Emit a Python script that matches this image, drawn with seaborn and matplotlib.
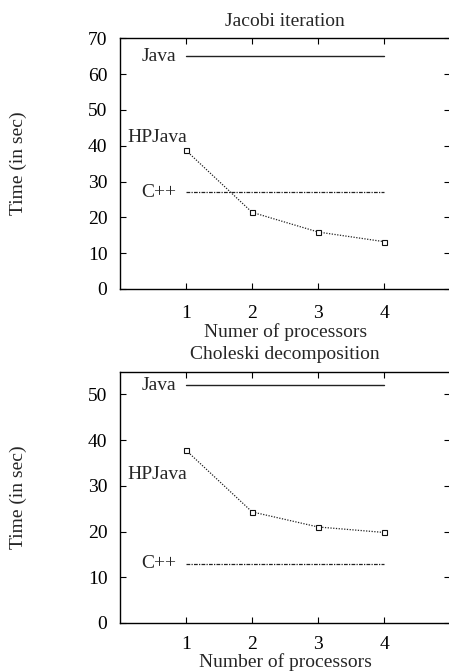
import matplotlib
matplotlib.use('Agg')
import matplotlib.pyplot as plt
import seaborn as sns
import pandas as pd

sns.set_theme(style="ticks")
plt.rcParams['font.family'] = ['Liberation Serif', 'DejaVu Serif']

# Processor counts
procs = [1, 2, 3, 4]

# Jacobi iteration timings (sec)
jacobi_hpjava = [38.7, 21.4, 15.9, 13.2]
jacobi_java = 65
jacobi_cpp = 27

# Choleski decomposition timings (sec)
choleski_hpjava = [37.8, 24.3, 21.0, 19.8]
choleski_java = 52
choleski_cpp = 13

FS = 14

panels = [
    ('Jacobi iteration', 'Numer of processors', jacobi_hpjava, jacobi_java, jacobi_cpp,
     70, [0, 10, 20, 30, 40, 50, 60, 70], 42.3),
    ('Choleski decomposition', 'Number of processors', choleski_hpjava, choleski_java, choleski_cpp,
     55, [0, 10, 20, 30, 40, 50], 32.4),
]

fig = plt.figure(figsize=(4.49, 6.72), dpi=100)
rects = [[0.267, 0.570, 0.736, 0.373], [0.267, 0.073, 0.736, 0.374]]
tick_pads = [11.5, 9.5]
label_pads = [0.5, 0.0]

for rect, tp, lp, (title, xlab, hp, java, cpp, ymax, yticks, hp_y) in zip(rects, tick_pads, label_pads, panels):
    ax = fig.add_axes(rect)
    df = pd.DataFrame({'procs': procs, 'HPJava': hp,
                       'Java': [java] * len(procs), 'C++': [cpp] * len(procs)})
    sns.lineplot(data=df, x='procs', y='Java', ax=ax, color='#222222', lw=1.0)
    sns.lineplot(data=df, x='procs', y='C++', ax=ax, color='#222222', lw=0.9,
                 dashes=False, linestyle=(0, (3, 1, 1, 1)))
    sns.lineplot(data=df, x='procs', y='HPJava', ax=ax, color='#222222', lw=0.9,
                 linestyle=(0, (1, 1.2)), marker='s', markersize=3.6,
                 markerfacecolor='white', markeredgecolor='#111111', markeredgewidth=0.8)

    # gnuplot-style key labels left of each curve
    ax.text(0.85, java, 'Java', ha='right', va='center', fontsize=FS)
    ax.text(0.85, cpp, 'C++', ha='right', va='center', fontsize=FS)
    ax.text(1.02, hp_y, 'HPJava', ha='right', va='center', fontsize=FS)

    ax.set_xlim(0, 5)
    ax.set_ylim(0, ymax)
    ax.set_xticks(procs)
    ax.set_yticks(yticks)
    ax.tick_params(direction='in', length=4, width=0.8, labelsize=FS,
                   top=True, right=True, colors='black')
    ax.tick_params(axis='x', pad=tp)
    ax.tick_params(axis='y', pad=9)
    for s in ax.spines.values():
        s.set_linewidth(1.0)
        s.set_color('black')
    ax.spines['right'].set_visible(False)
    ax.set_title(title, fontsize=FS, pad=9)
    ax.set_xlabel(xlab, fontsize=FS, labelpad=lp)
    ax.set_ylabel('Time (in sec)', fontsize=FS)
    ax.yaxis.set_label_coords(-0.28, 0.5)

fig.savefig('out.png', dpi=100)
